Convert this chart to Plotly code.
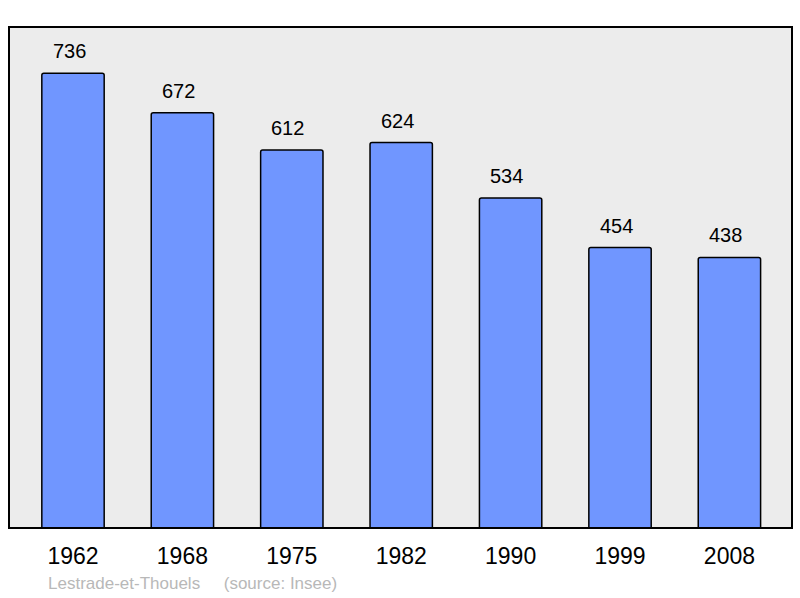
import plotly.graph_objects as go

years = ["1962", "1968", "1975", "1982", "1990", "1999", "2008"]
population = [736, 672, 612, 624, 534, 454, 438]
commune = "Lestrade-et-Thouels"
source = "(source: Insee)"

FONT = "Liberation Sans, Arial, sans-serif"

fig = go.Figure()
fig.add_trace(go.Bar(
    x=years, y=population, width=0.57,
    marker=dict(color="#7096ff", line=dict(color="#000000", width=1.5), cornerradius=2),
    hoverinfo="skip",
))

annotations = []
for i, v in enumerate(population):
    annotations.append(dict(x=i, y=v, text=str(v), showarrow=False, yshift=22, xshift=-4,
                            xref="x", yref="y", yanchor="middle",
                            font=dict(family=FONT, size=20, color="#000000")))

annotations.append(dict(
    text=commune + "&nbsp;&nbsp;&nbsp;&nbsp;&nbsp;" + source,
    xref="paper", yref="paper", x=(46 - 9) / 783, y=-(583 - 528) / 501,
    xanchor="left", yanchor="middle", showarrow=False,
    font=dict(family=FONT, size=17, color="#b8b8b8"),
))

fig.add_shape(type="rect", xref="paper", yref="paper", x0=0, y0=0, x1=1, y1=1,
              line=dict(color="#000000", width=2), layer="above")

fig.update_layout(
    width=800, height=598,
    margin=dict(l=9, r=8, t=27, b=70),
    paper_bgcolor="#ffffff",
    plot_bgcolor="#ececec",
    showlegend=False,
    annotations=annotations,
    xaxis=dict(type="category", range=[-0.585, 6.572], showgrid=False, zeroline=False,
               ticks="", tickfont=dict(family=FONT, size=23, color="#000000"),
               ticklabelstandoff=12, fixedrange=True),
    yaxis=dict(range=[0, 811], showgrid=False, zeroline=False, showticklabels=False,
               ticks="", fixedrange=True),
)

fig.write_html("out.html", config={"displayModeBar": False},
               post_script="document.body.style.margin='0';document.body.style.overflow='hidden';")
